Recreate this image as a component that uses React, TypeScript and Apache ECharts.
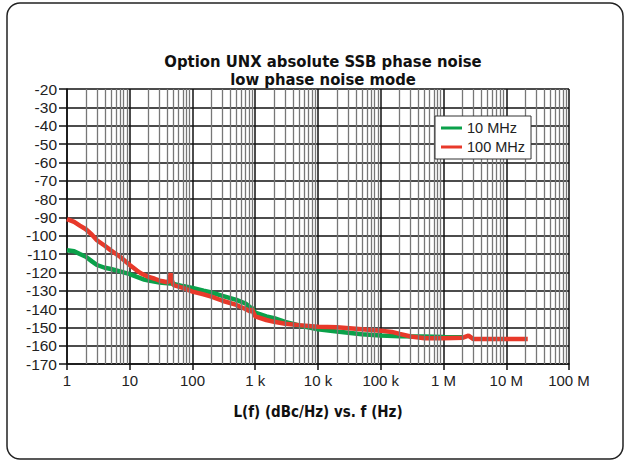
import React, { useEffect, useRef } from "react";
import * as echarts from "echarts";

const xTickLabels: Record<number, string> = {
  1: "1", 10: "10", 100: "100", 1000: "1 k", 10000: "10 k",
  100000: "100 k", 1000000: "1 M", 10000000: "10 M", 100000000: "100 M",
};
const decades = [1, 10, 100, 1000, 10000, 100000, 1000000, 10000000];
const minorMultipliers = [2, 3, 4, 5, 6, 7, 8, 9];

const series10MHz: [number, number][] = [
  [1, -108], [1.3, -108.5], [1.6, -110], [2, -111.5], [2.5, -114], [3, -116], [4, -117.5],
  [5, -118.2], [7, -119.5], [10, -121], [13, -122.5], [17, -124], [20, -124.5], [30, -125.5],
  [40, -126], [50, -126.3], [70, -127.5], [100, -128.5], [150, -130], [200, -131],
  [300, -132.8], [500, -135], [700, -137], [850, -139.3], [900, -139.5], [950, -141],
  [1000, -142], [1500, -144], [2000, -145], [3000, -147], [5000, -149], [10000, -151],
  [20000, -152.3], [50000, -153.8], [100000, -154.5], [200000, -154.8], [500000, -155],
  [1000000, -155.3], [2000000, -155.4],
];

const series100MHz: [number, number][] = [
  [1, -91], [1.3, -92.5], [1.6, -94.5], [2, -96.5], [2.5, -99.5], [3, -102.5], [4, -105.5],
  [5, -108], [7, -111.5], [10, -116], [13, -119], [15, -120.5], [20, -122.5], [25, -123.5],
  [30, -124.5], [35, -125], [40, -125.5], [43, -124], [45, -120.5], [47, -124.5], [50, -127],
  [70, -128.5], [100, -130.5], [150, -132], [200, -133.3], [300, -135.5], [500, -137.8],
  [700, -140], [850, -141.5], [880, -139.7], [920, -141.5], [1000, -144], [1500, -146],
  [2000, -147], [3000, -148], [5000, -148.8], [10000, -149.7], [20000, -150], [50000, -151],
  [100000, -151.8], [150000, -152.5], [200000, -153.6], [300000, -155], [500000, -155.9],
  [1000000, -156], [2000000, -155.7], [2500000, -154.5], [3000000, -156.4], [5000000, -156.3],
  [10000000, -156.3], [22000000, -156.3],
];

const FONT = "'Liberation Sans', Arial, sans-serif";
const NARROW = "'DejaVu Sans Condensed', 'Liberation Sans', sans-serif";

export default function App() {
  const ref = useRef<HTMLDivElement>(null);
  useEffect(() => {
    if (!ref.current) return;
    const chart = echarts.init(ref.current, undefined, { renderer: "svg" });
    const minorValues: number[] = [];
    decades.forEach((d) => minorMultipliers.forEach((m) => minorValues.push(d * m)));
    chart.setOption({
      animation: false,
      backgroundColor: "#fff",
      textStyle: { fontFamily: FONT },
      title: {
        text: "Option UNX absolute SSB phase noise\nlow phase noise mode",
        left: 318,
        textAlign: "center",
        top: 47,
        textStyle: { fontFamily: NARROW, fontSize: 16.5, fontWeight: "bold", color: "#111", lineHeight: 18 },
      },
      legend: {
        orient: "vertical",
        left: 435,
        top: 116,
        padding: [4, 6, 4, 6],
        itemGap: 3,
        itemWidth: 21,
        itemHeight: 3,
        icon: "rect",
        backgroundColor: "#fff",
        borderColor: "#333",
        borderWidth: 1,
        z: 20,
        textStyle: { fontFamily: FONT, fontSize: 14.5, color: "#222", lineHeight: 16 },
        data: ["10 MHz", "100 MHz"],
      },
      grid: { left: 67, right: 56, top: 89, bottom: 97 },
      xAxis: {
        type: "log",
        logBase: 10,
        min: 1,
        max: 100000000,
        name: "L(f) (dBc/Hz) vs. f (Hz)",
        nameLocation: "middle",
        nameGap: 40,
        nameTextStyle: { fontFamily: NARROW, fontSize: 15, fontWeight: "bold", color: "#111" },
        axisLine: { show: true, lineStyle: { color: "#111", width: 1.5 } },
        axisTick: { show: true, length: 6, lineStyle: { color: "#111", width: 1.5 } },
        axisLabel: {
          fontFamily: FONT, fontSize: 15, color: "#222", margin: 9,
          formatter: (v: number) => xTickLabels[Math.round(v)] ?? "",
        },
        splitLine: { show: true, lineStyle: { color: "#111", width: 1.5 } },
      },
      yAxis: {
        type: "value",
        min: -170,
        max: -20,
        interval: 10,
        axisLine: { show: true, lineStyle: { color: "#111", width: 1.5 } },
        axisTick: { show: true, length: 8, lineStyle: { color: "#111", width: 1.5 } },
        axisLabel: { fontFamily: FONT, fontSize: 15.5, color: "#222", margin: 10 },
        splitLine: { show: true, lineStyle: { color: "#111", width: 1.5 } },
      },
      series: [
        {
          name: "minor",
          type: "line",
          data: [[1, -20]],
          showSymbol: false,
          lineStyle: { opacity: 0 },
          silent: true,
          z: 1,
          markLine: {
            silent: true,
            symbol: "none",
            label: { show: false },
            lineStyle: { color: "#777", width: 1.3, type: "solid" },
            data: minorValues.map((v) => ({ xAxis: v })),
          },
        },
        {
          name: "10 MHz",
          type: "line",
          data: series10MHz,
          showSymbol: false,
          color: "#0aa14a",
          lineStyle: { width: 4.5, color: "#0aa14a" },
          z: 3,
        },
        {
          name: "100 MHz",
          type: "line",
          data: series100MHz,
          showSymbol: false,
          color: "#e8392a",
          lineStyle: { width: 4.5, color: "#e8392a" },
          z: 4,
        },
      ],
      graphic: [
        {
          type: "rect",
          shape: { x: 7, y: 3, width: 616, height: 456, r: 13 },
          style: { fill: "none", stroke: "#222", lineWidth: 1.5 },
          z: 100,
        },
      ],
    });
    return () => chart.dispose();
  }, []);
  return <div ref={ref} style={{ position: "fixed", left: 0, top: 0, width: 625, height: 461 }} />;
}
